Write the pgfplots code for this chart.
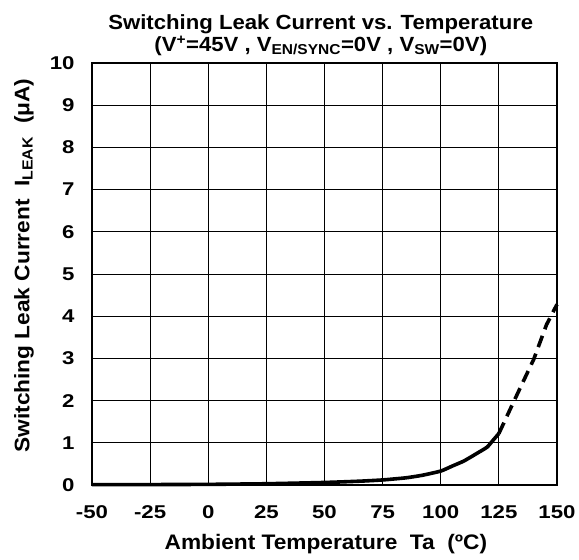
\documentclass[border=0pt]{standalone}
\usepackage{fontspec}
\setmainfont{Liberation Sans}
\newfontfamily\tickfont{Liberation Sans}[FakeStretch=1.2]
\newfontfamily\labelfont{Liberation Sans}[FakeStretch=1.08]
\usepackage{pgfplots}
\pgfplotsset{compat=1.18}
\begin{document}
\begin{tikzpicture}
\begin{axis}[
  at={(0pt,0pt)}, anchor=south west,
  scale only axis, width=465pt, height=422pt,
  xmin=-50, xmax=150, ymin=0, ymax=10,
  xtick={-50,-25,0,25,50,75,100,125,150},
  xticklabels={-50,-25,0,25,50,75,100,125,150},
  ytick={0,1,2,3,4,5,6,7,8,9,10},
  yticklabels={0,1,2,3,4,5,6,7,8,9,10},
  grid=major,
  major grid style={black, line width=0.9pt},
  major tick length=0pt,
  axis line style={black, line width=1.8pt},
  tick label style={font=\tickfont\fontsize{18.5}{20}\selectfont\bfseries},
  xticklabel style={yshift=-17pt},
  yticklabel style={xshift=-14pt},
  title={Switching Leak Current vs. Temperature\\[0pt](V\textsuperscript{+}=45V , V\textsubscript{EN/SYNC}=0V , V\textsubscript{SW}=0V)},
  title style={align=center, font=\labelfont\fontsize{20.5}{22}\selectfont\bfseries, at={(axis description cs:0.492,1)}, anchor=south, yshift=-2.5pt},
  xlabel={Ambient Temperature\ \ Ta\ \ (ºC)},
  every axis x label/.style={at={(axis description cs:0.503,-0.14)}, anchor=center, font=\labelfont\fontsize{21}{22}\selectfont\bfseries},
  ylabel={Switching Leak Current\ \ I\textsubscript{LEAK}\ \ (μA)},
  every axis y label/.style={at={(axis description cs:-0.146,0.52)}, rotate=90, anchor=center, font=\labelfont\fontsize{21}{22}\selectfont\bfseries},
  clip=false,
]
\addplot[black, line width=3.6pt, smooth, tension=0.3] coordinates {
(-50,0.01) (-25,0.01) (0,0.015) (25,0.03) (50,0.06) (65,0.09) (75,0.12)
(85,0.17) (92,0.23) (100,0.33) (105,0.45) (110,0.57) (116.8,0.79)
(120,0.9) (122.5,1.06) (125,1.22)
};
\addplot[black, line width=3.6pt, dash pattern=on 12pt off 7pt] coordinates {
(125,1.22) (131,1.93) (140,2.98) (145.5,3.8) (150,4.28)
};
\end{axis}
\pgfresetboundingbox
\path (-92pt,-75pt) rectangle (487pt,485pt);
\end{tikzpicture}
\end{document}
